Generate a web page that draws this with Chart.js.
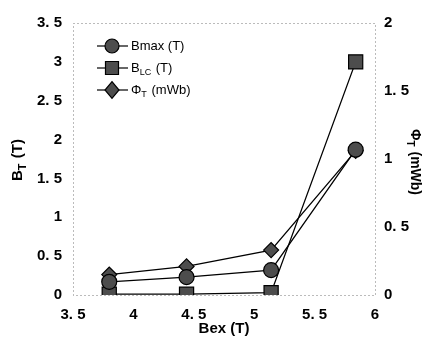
<!DOCTYPE html>
<html>
<head>
<meta charset="utf-8">
<script src="https://cdn.jsdelivr.net/npm/chart.js@4"></script>
<style>
  html, body { margin: 0; padding: 0; background: #fff; }
  #wrap { width: 431px; height: 338px; }
</style>
</head>
<body>
<div id="wrap"><canvas id="chart" width="431" height="338"></canvas></div>
<script>
const bex = [3.8, 4.44, 5.14, 5.84];
const bmax = [0.17, 0.23, 0.32, 1.87];
const blc = [0.01, 0.01, 0.03, 3.0];
const phiT = [0.15, 0.21, 0.33, 1.06];

const xTicks = [3.5, 4, 4.5, 5, 5.5, 6];
const leftTicks = [0, 0.5, 1, 1.5, 2, 2.5, 3, 3.5];
const rightTicks = [0, 0.5, 1, 1.5, 2];

const legendItems = [
  { parts: [["Bmax (T)", 0]], style: "circle" },
  { parts: [["B", 0], ["LC", 1], [" (T)", 0]], style: "rect" },
  { parts: [["\u03A6", 0], ["T", 1], [" (mWb)", 0]], style: "rectRot" }
];

const FONT = "'Liberation Sans', Arial, sans-serif";
const fill = "#4d4d4d";

const pts = ys => bex.map((x, i) => ({ x: x, y: ys[i] }));
const fmt = v => String(v).replace(".", ". ");

function drawParts(ctx, x, y, parts, size, weight) {
  let cx = x;
  parts.forEach(([t, sub]) => {
    const fs = sub ? Math.round(size * 0.7) : size;
    ctx.font = (weight || "") + " " + fs + "px " + FONT;
    ctx.fillText(t, cx, sub ? y + size * 0.35 : y);
    cx += ctx.measureText(t).width + (sub ? 1 : 0);
  });
}

function drawMarker(ctx, style, x, y, r) {
  ctx.beginPath();
  if (style === "circle") ctx.arc(x, y, r, 0, Math.PI * 2);
  else if (style === "rect") ctx.rect(x - r, y - r, 2 * r, 2 * r);
  else { ctx.moveTo(x, y - r * 1.2); ctx.lineTo(x + r, y); ctx.lineTo(x, y + r * 1.2); ctx.lineTo(x - r, y); ctx.closePath(); }
  ctx.fillStyle = fill;
  ctx.fill();
  ctx.lineWidth = 1.2;
  ctx.strokeStyle = "#000";
  ctx.stroke();
}

const decor = {
  id: "decor",
  beforeDatasetsDraw(chart) {
    const { ctx, chartArea: a } = chart;
    ctx.save();
    ctx.setLineDash([1, 3]);
    ctx.strokeStyle = "#777";
    ctx.lineWidth = 1;
    ctx.strokeRect(a.left + 0.5, a.top + 0.5, a.right - a.left, a.bottom - a.top);
    ctx.restore();
  },
  afterDatasetsDraw(chart) {
    const { ctx, chartArea: a } = chart;
    ctx.save();
    ctx.fillStyle = "#000";
    ctx.textBaseline = "middle";
    // legend
    legendItems.forEach((it, i) => {
      const y = 46 + i * 22;
      ctx.beginPath();
      ctx.moveTo(97, y);
      ctx.lineTo(128, y);
      ctx.lineWidth = 1.2;
      ctx.strokeStyle = "#000";
      ctx.stroke();
      drawMarker(ctx, it.style, 112, y, it.style === "rect" ? 6.5 : 7);
      ctx.fillStyle = "#000";
      ctx.textAlign = "left";
      drawParts(ctx, 131, y, it.parts, 13);
    });
    // x title
    ctx.textAlign = "left";
    ctx.font = "bold 15px " + FONT;
    const xt = "Bex (T)";
    ctx.fillText(xt, (a.left + a.right) / 2 - ctx.measureText(xt).width / 2, 329);
    // left title
    ctx.save();
    ctx.translate(18, (a.top + a.bottom) / 2 + 2);
    ctx.rotate(-Math.PI / 2);
    drawParts(ctx, -20, 0, [["B", 0], ["T", 1], [" (T)", 0]], 15, "bold");
    ctx.restore();
    // right title
    ctx.save();
    ctx.translate(415, (a.top + a.bottom) / 2 + 10);
    ctx.rotate(Math.PI / 2);
    drawParts(ctx, -40, 0, [["\u03A6", 0], ["T", 1], [" (mWb)", 0]], 14, "bold");
    ctx.restore();
    ctx.restore();
  }
};

const common = {
  borderColor: "#000",
  backgroundColor: fill,
  pointBorderColor: "#000",
  pointBackgroundColor: fill,
  borderWidth: 1.3,
  pointBorderWidth: 1.2,
  tension: 0
};

const tickFont = { family: FONT, size: 15, weight: "bold" };

new Chart(document.getElementById("chart"), {
  type: "line",
  data: {
    datasets: [
      { ...common, label: "Bmax (T)", data: pts(bmax), yAxisID: "y", pointStyle: "circle", pointRadius: 7.5 },
      { ...common, label: "BLC (T)", data: pts(blc), yAxisID: "y", pointStyle: "rect", pointRadius: 10 },
      { ...common, label: "PhiT (mWb)", data: pts(phiT), yAxisID: "y1", pointStyle: "rectRot", pointRadius: 7.5 }
    ]
  },
  options: {
    responsive: false,
    animation: false,
    layout: { padding: { top: 23, left: 0, right: 0, bottom: 0 } },
    plugins: { legend: { display: false }, tooltip: { enabled: false } },
    scales: {
      x: {
        type: "linear", min: 3.5, max: 6,
        afterBuildTicks: s => { s.ticks = xTicks.map(v => ({ value: v })); },
        grid: { display: false, drawTicks: false },
        border: { display: false },
        ticks: { color: "#000", padding: 11, font: tickFont, callback: fmt, maxRotation: 0 },
        afterFit: s => { s.height = 43; }
      },
      y: {
        position: "left", min: 0, max: 3.5,
        afterBuildTicks: s => { s.ticks = leftTicks.map(v => ({ value: v })); },
        grid: { display: false, drawTicks: false },
        border: { display: false },
        ticks: { color: "#000", padding: 11, font: tickFont, callback: fmt },
        afterFit: s => { s.width = 73; }
      },
      y1: {
        position: "right", min: 0, max: 2,
        afterBuildTicks: s => { s.ticks = rightTicks.map(v => ({ value: v })); },
        grid: { display: false, drawTicks: false },
        border: { display: false },
        ticks: { color: "#000", padding: 9, font: tickFont, callback: fmt },
        afterFit: s => { s.width = 56; }
      }
    }
  },
  plugins: [decor]
});
</script>
</body>
</html>
